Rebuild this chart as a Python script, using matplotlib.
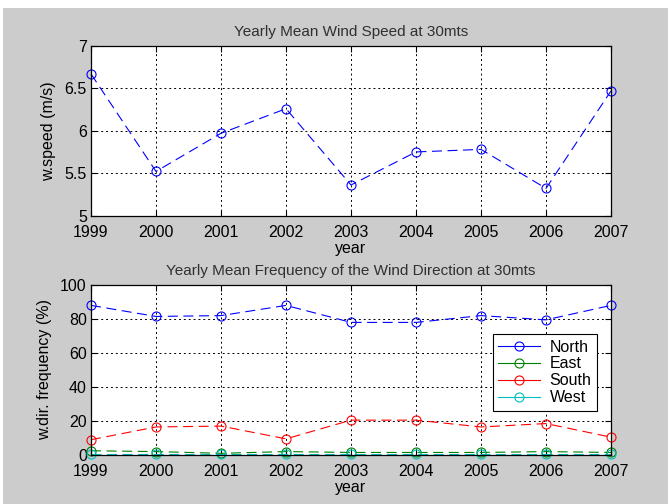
import matplotlib
matplotlib.use("Agg")
import matplotlib.pyplot as plt
from matplotlib.patches import Rectangle

years = [1999, 2000, 2001, 2002, 2003, 2004, 2005, 2006, 2007]
speed = [6.67, 5.52, 5.97, 6.26, 5.36, 5.75, 5.78, 5.32, 6.47]
north = [88, 81.5, 82, 88, 78, 78, 82, 79.5, 88]
east = [2.5, 2.0, 1.0, 2.0, 1.5, 1.5, 1.5, 2.0, 1.5]
south = [9, 16.5, 17, 9.5, 20.5, 20.5, 16.5, 18.5, 10.5]
west = [0.3, 0.3, 0.3, 0.3, 0.3, 0.3, 0.3, 0.3, 0.3]
dir_names = ["North", "East", "South", "West"]
dir_colors = ["#0000ff", "#008000", "#ff0000", "#00bfbf"]

plt.rcParams['font.family'] = ['Liberation Sans', 'DejaVu Sans']
plt.rcParams['font.size'] = 11.5

fig = plt.figure(figsize=(6.68, 5.04), dpi=100)
fig.patch.set_facecolor('white')
fig.patches.append(Rectangle((3/668, 0), 1, 1 - 8/504,
                             transform=fig.transFigure, facecolor='#cccccc',
                             edgecolor='none', zorder=-10))

dash = (0, (9, 5))
L, W = 91/668, 520/668

ax1 = fig.add_axes([L, 1 - 215.5/504, W, 169.5/504])
ax1.plot(years, speed, color='#0000ff', linestyle=dash, linewidth=0.8,
         marker='o', markersize=6.5, markerfacecolor='none', markeredgewidth=0.8,
         clip_on=False)
ax1.set_xlim(1999, 2007)
ax1.set_ylim(5, 7)
ax1.set_xticks(years)
ax1.set_yticks([5, 5.5, 6, 6.5, 7])
ax1.set_yticklabels(['5', '5.5', '6', '6.5', '7'])
ax1.set_title('Yearly Mean Wind Speed at 30mts', fontsize=11, pad=7, color='#303030')
ax1.set_xlabel('year', labelpad=1)
ax1.set_ylabel('w.speed (m/s)', labelpad=6)

ax2 = fig.add_axes([L, 1 - 455/504, W, 170/504])
for name, vals, c in zip(dir_names, [north, east, south, west], dir_colors):
    ax2.plot(years, vals, color=c, linestyle=dash, linewidth=0.8, label=name,
             marker='o', markersize=6.5, markerfacecolor='none', markeredgewidth=0.8,
             clip_on=False)
ax2.set_xlim(1999, 2007)
ax2.set_ylim(0, 100)
ax2.set_xticks(years)
ax2.set_yticks([0, 20, 40, 60, 80, 100])
ax2.set_title('Yearly Mean Frequency of the Wind Direction at 30mts', fontsize=11, pad=7, color='#303030')
ax2.set_xlabel('year', labelpad=1)
ax2.set_ylabel('w.dir. frequency (%)', labelpad=6)
leg = ax2.legend(loc='upper right', bbox_to_anchor=(0.973, 0.712), fancybox=False,
                 framealpha=1, edgecolor='black', handlelength=2.6, borderpad=0.35,
                 labelspacing=0.12, handletextpad=0.6, borderaxespad=0, fontsize=11.5)
for h in leg.get_lines():
    h.set_linestyle('-')
leg.get_frame().set_linewidth(0.8)

for ax in (ax1, ax2):
    ax.set_facecolor('white')
    ax.grid(True, color='black', linestyle=(0, (2, 3)), linewidth=0.7)
    ax.tick_params(direction='in', length=4, top=True, right=True, pad=6.5, colors='black')
    ax.tick_params(axis='y', pad=3)
    for s in ax.spines.values():
        s.set_linewidth(0.9)

fig.savefig('out.png', dpi=100)
